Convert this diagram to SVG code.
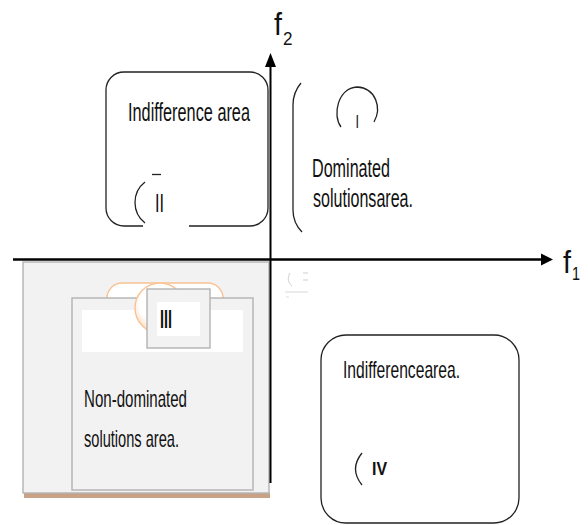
<svg xmlns="http://www.w3.org/2000/svg" width="588" height="525" viewBox="0 0 588 525">
<defs>
<style>
.t{font-family:"Liberation Sans Narrow","Liberation Sans",Arial,sans-serif;fill:#111;}
.ln{fill:none;stroke:#222;stroke-width:1.3;}
.gb{fill:#f2f2f2;stroke:#b3b3b3;stroke-width:1.4;}
</style>
<radialGradient id="og" cx="0.5" cy="0.4" r="0.55">
<stop offset="0" stop-color="#ffffff"/>
<stop offset="0.75" stop-color="#ffffff"/>
<stop offset="1" stop-color="#fde6d2"/>
</radialGradient>
</defs>
<rect width="588" height="525" fill="#ffffff"/>

<g id="node-nondominated">
<rect x="24" y="493" width="246" height="5" fill="#c9a184"/>
<rect class="gb" x="23" y="262" width="246" height="231"/>
<rect x="107" y="283" width="116" height="40" rx="15" fill="#ffffff" stroke="#f9c293" stroke-width="1.4"/>
<rect class="gb" x="72" y="298" width="181" height="192"/>
<rect x="82" y="310" width="161" height="42" fill="#ffffff"/>
<circle cx="160" cy="308" r="25" fill="url(#og)" stroke="#f9c293" stroke-width="1.4"/>
<text class="t" x="84" y="407" font-size="24" textLength="103" lengthAdjust="spacingAndGlyphs">Non-dominated</text>
<text class="t" x="84" y="447" font-size="24" textLength="95" lengthAdjust="spacingAndGlyphs">solutions area.</text>
</g>

<g id="node-III">
<rect class="gb" x="147" y="289" width="63" height="59"/>
<rect x="157" y="302" width="43" height="34" fill="#ffffff"/>
<text class="t" x="160" y="328" font-size="25" font-weight="bold" textLength="12" lengthAdjust="spacingAndGlyphs">III</text>
</g>

<g id="node-indifference-II">
<path class="ln" d="M143,226 H124 A18,18 0 0 1 106,208 V90 A18,18 0 0 1 124,72 H250 A18,18 0 0 1 268,90 V208 A18,18 0 0 1 250,226 H189"/>
<text class="t" x="128" y="121" font-size="25" textLength="122" lengthAdjust="spacingAndGlyphs">Indifference area</text>
<path class="ln" d="M145,182 A26,26 0 0 0 145,223"/>
<path class="ln" d="M152,174.5 H161"/>
<text class="t" x="155" y="212" font-size="26" textLength="9" lengthAdjust="spacingAndGlyphs">II</text>
</g>

<g id="node-dominated-I">
<path class="ln" d="M301,83 C295,90 293,97 293,105 V210 C293,218 296,226 302,232"/>
<path class="ln" d="M341,127 C332,115 338,88 357,87 C376,88 382,108 374,122"/>
<text class="t" x="355.5" y="128" font-size="19" textLength="3.5" lengthAdjust="spacingAndGlyphs">I</text>
<text class="t" x="312" y="177" font-size="25" textLength="78" lengthAdjust="spacingAndGlyphs">Dominated</text>
<text class="t" x="313" y="207" font-size="25" textLength="100" lengthAdjust="spacingAndGlyphs">solutionsarea.</text>
</g>

<g id="node-indifference-IV">
<rect class="ln" x="321" y="335" width="198" height="188" rx="25"/>
<text class="t" x="343" y="378" font-size="24" textLength="117" lengthAdjust="spacingAndGlyphs">Indifferencearea.</text>
<path class="ln" d="M362,453 Q349,469 362,485"/>
<text class="t" x="372" y="475" font-size="19" font-weight="bold" textLength="15" lengthAdjust="spacingAndGlyphs">IV</text>
</g>

<g id="connectors">
<line x1="13" y1="259.5" x2="543" y2="259.5" stroke="#000" stroke-width="2.5"/>
<polygon points="553,259.5 541,253.5 541,265.5" fill="#000"/>
<line x1="270.5" y1="483" x2="270.5" y2="65" stroke="#000" stroke-width="2"/>
<polygon points="270.5,53 265,67 276,67" fill="#000"/>
</g>

<g id="axis-labels">
<text class="t" x="274" y="35" font-size="31" textLength="8" lengthAdjust="spacingAndGlyphs">f</text>
<text class="t" x="283" y="45" font-size="18" textLength="9.5" lengthAdjust="spacingAndGlyphs">2</text>
<text class="t" x="563" y="273" font-size="31" textLength="8" lengthAdjust="spacingAndGlyphs">f</text>
<text class="t" x="572" y="280" font-size="18" textLength="8" lengthAdjust="spacingAndGlyphs">1</text>
</g>

<g id="smudge" fill="none" stroke="#cfcfcf" stroke-width="1">
<path d="M290,273 C287,278 288,283 292,286"/>
<path d="M303,273 H308 M303,280 H308"/>
<path d="M285,292 H308" stroke="#d8d8d8"/>
<path d="M286,297 H289" stroke="#dddddd"/>
</g>
</svg>
